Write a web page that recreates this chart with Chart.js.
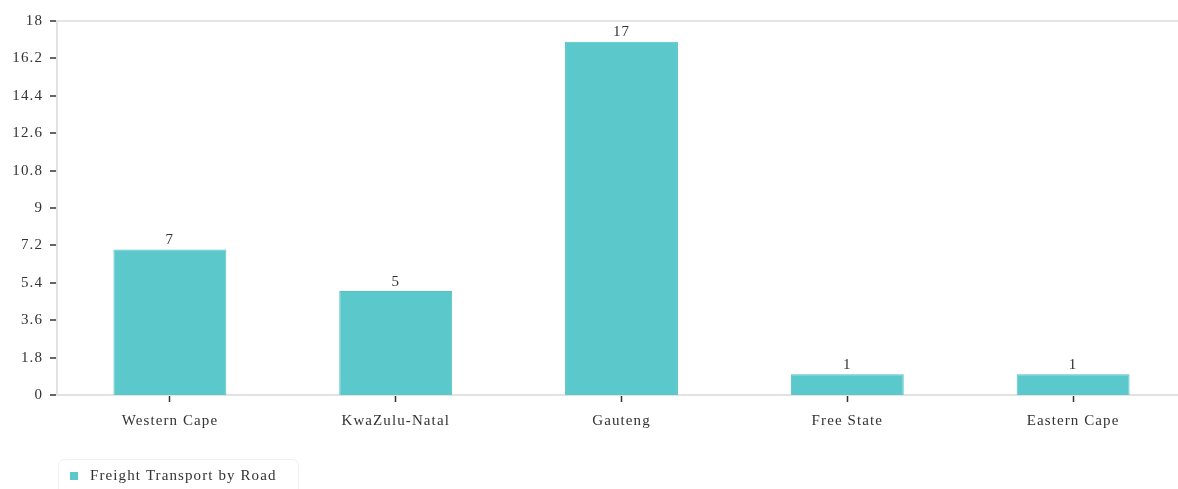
<!DOCTYPE html>
<html>
<head>
<meta charset="utf-8">
<script src="https://cdn.jsdelivr.net/npm/chart.js@4/dist/chart.umd.min.js"></script>
<style>
  html, body { margin: 0; padding: 0; background: #fff; overflow: hidden; }
  #wrap { position: relative; width: 1190px; height: 489px; }
</style>
</head>
<body>
<div id="wrap"><canvas id="c"></canvas></div>
<script>
const categories = ['Western Cape', 'KwaZulu-Natal', 'Gauteng', 'Free State', 'Eastern Cape'];
const values = [7, 5, 17, 1, 1];
const yTickValues = [0, 1.8, 3.6, 5.4, 7.2, 9, 10.8, 12.6, 14.4, 16.2, 18];
const seriesName = 'Freight Transport by Road';

const FONT = { family: '"Liberation Serif", "Times New Roman", serif', size: 15 };
const TEXT = '#333';
const BAR = '#5BC8CB';
const SPACING = '1.1px';

const spacingPlugin = {
  id: 'spacing',
  beforeUpdate(chart) { chart.ctx.letterSpacing = SPACING; },
  beforeLayout(chart) { chart.ctx.letterSpacing = SPACING; },
  beforeDraw(chart) { chart.ctx.letterSpacing = SPACING; }
};

const valueLabels = {
  id: 'valueLabels',
  afterDatasetsDraw(chart) {
    const ctx = chart.ctx;
    ctx.save();
    ctx.letterSpacing = SPACING;
    ctx.font = FONT.size + 'px ' + FONT.family;
    ctx.fillStyle = TEXT;
    ctx.textAlign = 'center';
    ctx.textBaseline = 'bottom';
    chart.getDatasetMeta(0).data.forEach((bar, i) => {
      ctx.fillText(String(chart.data.datasets[0].data[i]), bar.x, bar.y - 2);
    });
    ctx.restore();
  }
};

const bottomLegend = {
  id: 'bottomLegend',
  afterDraw(chart) {
    const ctx = chart.ctx;
    const ds = chart.data.datasets[0];
    ctx.save();
    ctx.strokeStyle = '#f0f0f0';
    ctx.lineWidth = 1;
    ctx.beginPath();
    ctx.roundRect(58.5, 459.5, 240, 40, 6);
    ctx.stroke();
    ctx.fillStyle = ds.backgroundColor;
    ctx.fillRect(70, 472, 8, 8);
    ctx.letterSpacing = SPACING;
    ctx.font = FONT.size + 'px ' + FONT.family;
    ctx.fillStyle = TEXT;
    ctx.textAlign = 'left';
    ctx.textBaseline = 'middle';
    ctx.fillText(ds.label, 90, 476);
    ctx.restore();
  }
};

new Chart(document.getElementById('c'), {
  type: 'bar',
  data: {
    labels: categories,
    datasets: [{
      label: seriesName,
      data: values,
      backgroundColor: BAR,
      borderColor: '#53c0c3',
      borderWidth: 1,
      barPercentage: 0.5,
      categoryPercentage: 1.0
    }]
  },
  options: {
    responsive: true,
    maintainAspectRatio: false,
    animation: false,
    layout: { padding: { top: 21, right: 4, left: 0, bottom: 0 } },
    plugins: {
      legend: { display: false },
      tooltip: { enabled: false }
    },
    scales: {
      x: {
        afterFit(scale) { scale.height = 94; },
        grid: {
          display: true,
          drawOnChartArea: false,
          offset: false,
          tickColor: TEXT,
          tickLength: 7,
          tickWidth: 1.5
        },
        border: { display: true, color: '#e2e2e2', width: 2 },
        ticks: { color: TEXT, font: FONT, padding: 10, maxRotation: 0 }
      },
      y: {
        min: 0,
        max: 18,
        afterFit(scale) { scale.width = 57; },
        afterBuildTicks(scale) { scale.ticks = yTickValues.map(v => ({ value: v })); },
        grid: {
          color: (c) => (c.tick && c.tick.value === 18) ? '#e6e6e6' : 'rgba(0,0,0,0)',
          lineWidth: (c) => (c.tick && c.tick.value === 18) ? 2 : 0,
          tickColor: TEXT,
          tickLength: 7,
          tickWidth: 1.5
        },
        border: { display: true, color: '#e2e2e2', width: 2 },
        ticks: {
          color: TEXT,
          font: FONT,
          padding: 7,
          callback: (v) => String(v)
        }
      }
    }
  },
  plugins: [spacingPlugin, valueLabels, bottomLegend]
});
</script>
</body>
</html>
